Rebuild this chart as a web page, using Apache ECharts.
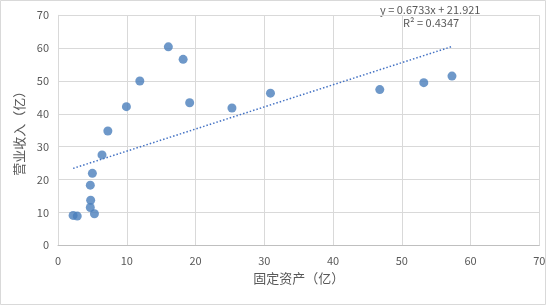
<!DOCTYPE html>
<html>
<head>
<meta charset="utf-8">
<script src="https://cdn.jsdelivr.net/npm/echarts@6/dist/echarts.min.js"></script>
<style>
html,body{margin:0;padding:0;background:#fff;}
#c{width:556px;height:306px;}
</style>
</head>
<body>
<div id="c"></div>
<script>
// Data
var fixedAssets = [16.05, 18.2, 11.9, 9.95, 19.15, 25.3, 30.9, 7.25, 46.8, 53.2, 57.3, 6.4, 5.0, 4.7, 4.75, 4.7, 5.3, 2.2, 2.8];
var revenue     = [60.4, 56.6, 50.0, 42.2, 43.4, 41.8, 46.3, 34.8, 47.4, 49.5, 51.5, 27.5, 21.9, 18.3, 13.7, 11.5, 9.6, 9.1, 8.9];
var xTicks = [0, 10, 20, 30, 40, 50, 60, 70];
var yTicks = [0, 10, 20, 30, 40, 50, 60, 70];
var trendSlope = 0.6733;
var trendIntercept = 21.921;
var rSquared = 0.4347;
var xName = '固定资产（亿）';
var yName = '营业收入（亿）';

var points = fixedAssets.map(function (x, i) { return [x, revenue[i]]; });
var xMin = Math.min.apply(null, fixedAssets);
var xMax = Math.max.apply(null, fixedAssets);
var trend = [[xMin, trendSlope * xMin + trendIntercept], [xMax, trendSlope * xMax + trendIntercept]];

var font = '"Noto Sans CJK SC", "Noto Sans", sans-serif';
var chart = echarts.init(document.getElementById('c'), null, {renderer: 'canvas'});
chart.setOption({
  animation: false,
  backgroundColor: '#fff',
  grid: {left: 58, right: 16.7, top: 15.3, bottom: 60.7},
  graphic: [
    {type: 'rect', shape: {x: 0.5, y: 0.5, width: 545, height: 304}, style: {fill: 'none', stroke: '#d9d9d9', lineWidth: 1}, silent: true},
    {type: 'text', left: 380, top: 4, style: {text: 'y = ' + trendSlope + 'x + ' + trendIntercept, fill: '#595959', font: '11px ' + font}},
    {type: 'text', left: 403, top: 17, style: {text: 'R² = ' + rSquared, fill: '#595959', font: '11px ' + font}}
  ],
  xAxis: {
    type: 'value', min: xTicks[0], max: xTicks[xTicks.length - 1], interval: 10,
    name: xName, nameLocation: 'middle', nameGap: 26,
    nameTextStyle: {color: '#595959', fontSize: 13, fontFamily: font},
    axisLine: {show: true, lineStyle: {color: '#bfbfbf'}},
    axisTick: {show: false},
    axisLabel: {color: '#595959', fontSize: 11, fontFamily: font, margin: 10},
    splitLine: {show: true, lineStyle: {color: '#d9d9d9'}}
  },
  yAxis: {
    type: 'value', min: yTicks[0], max: yTicks[yTicks.length - 1], interval: 10,
    name: yName, nameLocation: 'middle', nameGap: 21, nameRotate: 90,
    nameTextStyle: {color: '#595959', fontSize: 13, fontFamily: font},
    axisLine: {show: true, lineStyle: {color: '#d9d9d9'}},
    axisTick: {show: false},
    axisLabel: {color: '#595959', fontSize: 11, fontFamily: font, margin: 9},
    splitLine: {show: true, lineStyle: {color: '#d9d9d9'}}
  },
  series: [
    {
      type: 'line', data: trend, showSymbol: false, symbol: 'none',
      lineStyle: {color: '#4472c4', width: 1.5, type: [1.5, 2]}, z: 1
    },
    {
      type: 'scatter', data: points, symbolSize: 9,
      itemStyle: {color: '#4a7ebb'}, z: 2
    }
  ]
});
</script>
</body>
</html>
